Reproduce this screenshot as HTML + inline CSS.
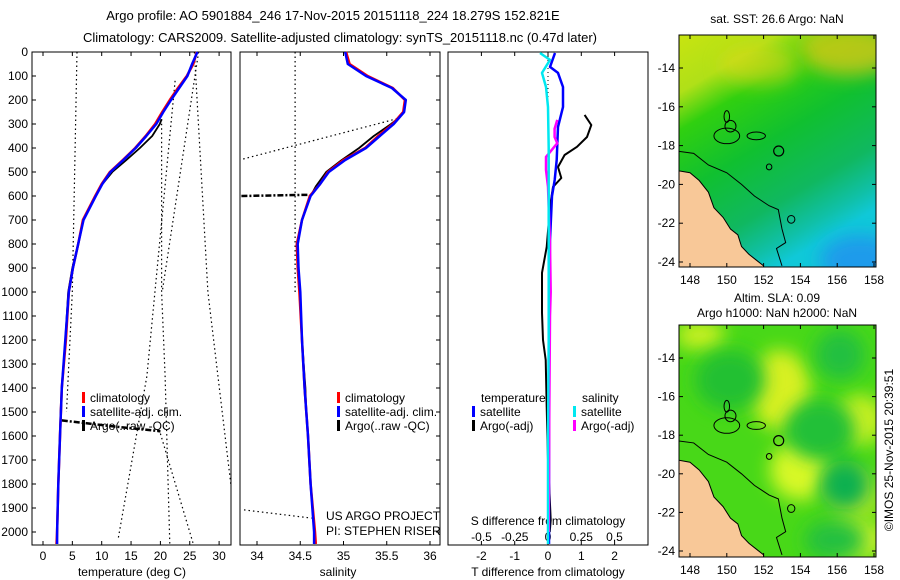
<!DOCTYPE html>
<html><head><meta charset="utf-8"><style>
html,body{margin:0;padding:0;background:#fff}
svg{display:block;font-family:"Liberation Sans",sans-serif;font-size:12px}
</style></head><body>
<svg id="chart" width="900" height="580" viewBox="0 0 900 580" xmlns="http://www.w3.org/2000/svg">
<defs>
<linearGradient id="sstGrad" x1="0" y1="0" x2="0.5" y2="1">
<stop offset="0" stop-color="#c8e410"/><stop offset="0.2" stop-color="#b0e018"/><stop offset="0.33" stop-color="#30d010"/>
<stop offset="0.55" stop-color="#10c030"/><stop offset="0.78" stop-color="#10b860"/><stop offset="0.92" stop-color="#10c0a8"/><stop offset="1" stop-color="#10c8d8"/>
</linearGradient>
<filter id="blur" x="-50%" y="-50%" width="200%" height="200%"><feGaussianBlur stdDeviation="9"/></filter>
<clipPath id="clipMap1"><rect x="679" y="35" width="197" height="232"/></clipPath>
<clipPath id="clipMap2"><rect x="679" y="325" width="197" height="232"/></clipPath>
</defs>
<g id="root"></g>
</svg>
<script>
// ---------- data ----------
const depthTicks = [0,100,200,300,400,500,600,700,800,900,1000,1100,1200,1300,1400,1500,1600,1700,1800,1900,2000];
const tempTicks = [0,5,10,15,20,25,30];
const salTicks = [34,34.5,35,35.5,36];
const tdiffTicks = [-2,-1,0,1,2];
const sdiffTicks = [-0.5,-0.25,0,0.25,0.5];
const sdiffTickLabels = ["-0.5","-0.25","0","0.25","0.5"];
const lonTicks = [148,150,152,154,156,158];
const latTicks = [-14,-16,-18,-20,-22,-24];

const climDepth = [0,50,100,150,200,250,300,350,400,450,500,550,600,700,800,900,1000,1200,1400,1600,1800,2000,2050];
const climTemp  = [26.2,25.6,24.5,23.0,21.6,20.3,19.1,17.5,15.7,13.6,11.4,10.0,8.9,6.8,6.0,5.1,4.4,3.9,3.2,2.9,2.6,2.4,2.3];
const satTemp   = [26.3,25.4,24.6,23.2,21.8,20.5,19.3,17.6,15.8,13.7,11.5,10.1,9.0,6.9,6.0,5.1,4.4,3.8,3.2,2.9,2.6,2.4,2.4];
const climSal   = [35.03,35.07,35.28,35.57,35.71,35.69,35.57,35.40,35.25,35.00,34.82,34.73,34.61,34.52,34.46,34.47,34.49,34.52,34.55,34.59,34.62,34.67,34.68];
const satSal    = [35.02,35.05,35.26,35.56,35.72,35.70,35.58,35.42,35.26,35.02,34.83,34.73,34.62,34.52,34.47,34.48,34.50,34.52,34.55,34.59,34.62,34.66,34.66];

const argoDepth = [280,300,350,400,450,500,560,600,700,800,900,1000,1200,1400,1500,1600,1800,2000];
const argoTemp  = [20.2,19.9,18.6,16.5,14.2,11.8,9.8,9.0,6.9,6.0,5.0,4.3,3.8,3.2,3.0,2.9,2.6,2.4];
const argoSal   = [35.62,35.55,35.35,35.18,34.98,34.80,34.68,34.62,34.52,34.46,34.47,34.49,34.52,34.56,34.57,34.59,34.62,34.66];

const tdSatDepth = [4,62,87,146,229,312,450,533,600,783,1000,1500,2000,2050];
const tdSatVal   = [0.21,0.06,0.30,0.45,0.45,0.30,0.26,0.20,0.12,0.06,0.04,0.03,0.03,0.03];
const tdArgoDepth = [262,304,354,395,429,479,525,562,645,812,920,1087,1200,1283,1479,1700,1950,2000];
const tdArgoVal   = [1.10,1.30,1.17,0.87,0.50,0.30,0.40,0.15,0.06,-0.04,-0.18,-0.18,-0.15,-0.07,-0.04,0.0,0.08,0.05];
const sdSatDepth = [4,33,87,146,229,400,800,1200,1600,2000,2050];
const sdSatVal   = [-0.06,0.015,-0.045,-0.015,0.0,0.005,0.005,0.005,0.0,0.0,0.0];
const sdArgoDepth = [283,320,354,380,437,491,562,800,1000,1100,1500,2000];
const sdArgoVal   = [0.07,0.05,0.05,0.07,-0.015,-0.015,0.0,0.015,0.02,0.015,0.01,0.005];

// ---------- scales ----------
const yD = d => 52 + d*0.24;
const xT = t => 43 + t*5.87;
const xS = s => 257 + (s-34)*86.5;
const xTD = v => 548 + v*33.3;
const xSD = v => 548 + v*133;
const mX = lon => 690 + (lon-148)*18.4;
const mY1 = lat => 68 + (-14-lat)*19.4;
const mY2 = lat => 358 + (-14-lat)*19.3;

const NS = "http://www.w3.org/2000/svg";
const root = document.getElementById('root');
function el(tag, attrs, parent){ const e=document.createElementNS(NS,tag); for(const k in attrs) e.setAttribute(k,attrs[k]); (parent||root).appendChild(e); return e; }
function txt(x,y,s,anchor,parent,size){ const t=el('text',{x:x,y:y,'text-anchor':anchor||'start','font-size':size||12,fill:'#000'},parent); t.textContent=s; return t; }
function line(xs,ys,color,w,dash){ let p=xs.map((x,i)=>x.toFixed(1)+','+ys[i].toFixed(1)).join(' '); const a={points:p,fill:'none',stroke:color,'stroke-width':w,'stroke-linejoin':'round'}; if(dash)a['stroke-dasharray']=dash; return el('polyline',a); }

// titles
let t=txt(333,20,"Argo profile: AO 5901884_246 17-Nov-2015 20151118_224 18.279S 152.821E",'middle',null,13);


t=txt(340,42,"Climatology: CARS2009. Satellite-adjusted climatology: synTS_20151118.nc (0.47d later)",'middle',null,13);



// panels frames
const panels=[[32,231],[240,440],[448,648]];
panels.forEach((p,i)=>{ const r=el('rect',{x:p[0],y:52,width:p[1]-p[0],height:493,fill:'none',stroke:'#000','stroke-width':1});
 
  });

// depth ticks
depthTicks.forEach(d=>{ const y=yD(d); el('line',{x1:32,y1:y,x2:36,y2:y,stroke:'#000'}); el('line',{x1:436,y1:y,x2:440,y2:y,stroke:'#000'});
 const l=txt(28,y+4,String(d),'end'); 
  });

function xticks(vals,fx,labels,yl,x0,x1){ vals.forEach((v,i)=>{ const x=fx(v); if(x<x0-1||x>x1+1)return; el('line',{x1:x,y1:52,x2:x,y2:56,stroke:'#000'}); el('line',{x1:x,y1:545,x2:x,y2:541,stroke:'#000'});
 if(yl){ const l=txt(x,yl,labels?labels[i]:String(v),'middle'); 
  } }); }
xticks(tempTicks,xT,null,560,32,231);
xticks(salTicks,xS,null,560,240,440);
xticks(tdiffTicks,xTD,null,560,448,648);
sdiffTicks.forEach((v,i)=>{ const l=txt(xSD(v),541,sdiffTickLabels[i],'middle'); 
  });

t=txt(132,576,"temperature (deg C)",'middle'); 

t=txt(338,576,"salinity",'middle'); 

t=txt(548,576,"T difference from climatology",'middle'); 

t=txt(548,525,"S difference from climatology",'middle'); 


// dotted raw lines (temperature)
const dotted='1.5,3';
const rawTsegs=[[[5.8,0],[5.0,1000],[4.0,1500]],[[26.5,0],[20.3,1000]],[[25.8,0],[28.1,1000],[32,1800]],[[20.2,280],[20.2,1000],[20.8,1350],[21.6,2050]],[[22.5,120],[17.7,1350],[12.8,2030]],[[20,1590],[25.6,2050]]];
rawTsegs.forEach(s=>{ const l=line(s.map(p=>xT(p[0])),s.map(p=>yD(p[1])),'#000',1.2,dotted); 
  });
let b=line([xT(3.2),xT(12),xT(20)],[yD(1535),yD(1560),yD(1580)],'#000',2.5,'6,2,2,2'); 

// salinity dotted
const rawSsegs=[[[34.44,0],[34.44,1000]],[[33.84,446],[35.65,275]],[[33.85,1908],[34.63,1942]]];
rawSsegs.forEach(s=>{ const l=line(s.map(p=>xS(p[0])),s.map(p=>yD(p[1])),'#000',1.2,dotted); 
  });
b=line([xS(33.82),xS(34.6)],[yD(600),yD(595)],'#000',2.5,'6,2,2,2'); 

b=line([548,548],[52,yD(500)],'#000',1,'1,3'); 


// profile curves
function series(xs,ds,fx,color,w,name){ const l=line(xs.map(fx),ds.map(yD),color,w); 
  }
series(argoTemp,argoDepth,xT,'#000',1.8,'argo-temperature-line');
series(climTemp,climDepth,xT,'#ff0000',2.5,'climatology-temperature-line');
series(satTemp,climDepth,xT,'#0000ff',2.5,'satellite-temperature-line');
series(argoSal,argoDepth,xS,'#000',1.8,'argo-salinity-line');
series(climSal,climDepth,xS,'#ff0000',2.5,'climatology-salinity-line');
series(satSal,climDepth,xS,'#0000ff',2.5,'satellite-salinity-line');
series(tdArgoVal,tdArgoDepth,xTD,'#000',2,'argo-t-diff-line');
series(tdSatVal,tdSatDepth,xTD,'#0000ff',2.5,'satellite-t-diff-line');
series(sdArgoVal,sdArgoDepth,xSD,'#ff00ff',2.5,'argo-s-diff-line');
series(sdSatVal,sdSatDepth,xSD,'#00e8f0',2.5,'satellite-s-diff-line');

// legends
function leg(x,y,color,label){ const g=el('g',{}); 
 
 el('rect',{x:x,y:y-10,width:3,height:11,fill:color},g); txt(x+8,y,label,'start',g); }
leg(82,402,'#ff0000','climatology'); leg(82,416,'#0000ff','satellite-adj. clim.'); leg(82,430,'#000','Argo(..raw -QC)');
leg(337,402,'#ff0000','climatology'); leg(337,416,'#0000ff','satellite-adj. clim.'); leg(337,430,'#000','Argo(..raw -QC)');
txt(481,402,'temperature'); leg(472,416,'#0000ff','satellite'); leg(472,430,'#000','Argo(-adj)');
txt(582,402,'salinity'); leg(573,416,'#00e8f0','satellite'); leg(573,430,'#ff00ff','Argo(-adj)');
t=txt(326,520,'US ARGO PROJECT'); 

t=txt(326,535,'PI: STEPHEN RISER'); 


// ---------- maps ----------
const coast=[[147.4,-19.3],[148.0,-19.4],[148.5,-19.8],[149.0,-20.4],[149.3,-21.2],[149.8,-21.7],[150.2,-22.3],[150.6,-22.6],[150.8,-23.2],[151.2,-23.6],[151.6,-23.9],[152.0,-24.2],[152.0,-24.4],[147.4,-24.4]];
const isobath=[[147.4,-18.3],[148.2,-18.4],[149,-19.0],[150,-19.4],[150.8,-20.0],[151.5,-20.6],[152.3,-21.1],[152.8,-21.3],[153.0,-22.3],[153.2,-23.0],[152.7,-23.3],[153.0,-24.2]];
const islands=[[150.0,-17.5,0.7,0.4],[151.6,-17.5,0.5,0.2],[150.0,-16.5,0.15,0.3],[150.2,-17.0,0.3,0.3],[153.5,-21.8,0.2,0.2],[152.3,-19.1,0.15,0.15]];
function drawMap(mY,top,clip,bg,name){
 const g=el('g',{'clip-path':'url(#'+clip+')'}); 
 
 bg(g);
 el('polygon',{points:coast.map(p=>mX(p[0])+','+mY(p[1])).join(' '),fill:'#f8c898',stroke:'#000','stroke-width':1},g);
 el('polyline',{points:isobath.map(p=>mX(p[0])+','+mY(p[1])).join(' '),fill:'none',stroke:'#000','stroke-width':1},g);
 islands.forEach(c=>el('ellipse',{cx:mX(c[0]),cy:mY(c[1]),rx:c[2]*18.4,ry:c[3]*19.4,fill:'none',stroke:'#000'},g));
 const loc=el('circle',{cx:mX(152.82),cy:mY(-18.28),r:5,fill:'none',stroke:'#000','stroke-width':1.2},g);
 
 
 el('rect',{x:679,y:top,width:197,height:232,fill:'none',stroke:'#000'});
 lonTicks.forEach(l=>{ const x=mX(l); el('line',{x1:x,y1:top,x2:x,y2:top+4,stroke:'#000'}); el('line',{x1:x,y1:top+232,x2:x,y2:top+228,stroke:'#000'});
  const tl=txt(x,top+249,String(l),'middle'); 
   });
 latTicks.forEach(l=>{ const y=mY(l); el('line',{x1:679,y1:y,x2:683,y2:y,stroke:'#000'}); el('line',{x1:876,y1:y,x2:872,y2:y,stroke:'#000'});
  const tl=txt(675,y+4,String(l),'end'); 
   });
}
drawMap(mY1,35,'clipMap1',g=>{ el('rect',{x:679,y:35,width:197,height:232,fill:'url(#sstGrad)'},g);
 el('ellipse',{cx:850,cy:50,rx:50,ry:25,fill:'#f0c818',opacity:0.7,filter:'url(#blur)'},g);
 el('ellipse',{cx:760,cy:65,rx:40,ry:20,fill:'#e0d818',opacity:0.6,filter:'url(#blur)'},g);
 el('ellipse',{cx:860,cy:260,rx:40,ry:25,fill:'#2090f0',opacity:0.8,filter:'url(#blur)'},g);
},'sst-map');
drawMap(mY2,325,'clipMap2',g=>{ el('rect',{x:679,y:325,width:197,height:232,fill:'#48d818'},g);
 const blobs=[[780,390,30,40,'#d8f020'],[860,420,25,25,'#c8f020'],[800,470,30,30,'#d8f828'],[855,495,25,25,'#c8ec20'],[700,335,25,15,'#c8f020'],[860,540,30,20,'#c8f028'],
  [730,380,35,30,'#20c030'],[840,355,25,25,'#20c040'],[820,430,35,30,'#20c038'],[845,485,25,25,'#10b050'],[835,540,30,20,'#20c040']];
 blobs.forEach(b=>el('ellipse',{cx:b[0],cy:b[1],rx:b[2],ry:b[3],fill:b[4],filter:'url(#blur)'},g));
},'sla-map');
t=txt(777,23,'sat. SST: 26.6 Argo: NaN','middle'); 

t=txt(777,302,'Altim. SLA: 0.09','middle'); 

t=txt(777,317,'Argo h1000: NaN h2000: NaN','middle'); 

t=txt(0,0,'©IMOS 25-Nov-2015 20:39:51','middle'); t.setAttribute('transform','translate(893,450) rotate(-90)');


</script>
</body></html>
